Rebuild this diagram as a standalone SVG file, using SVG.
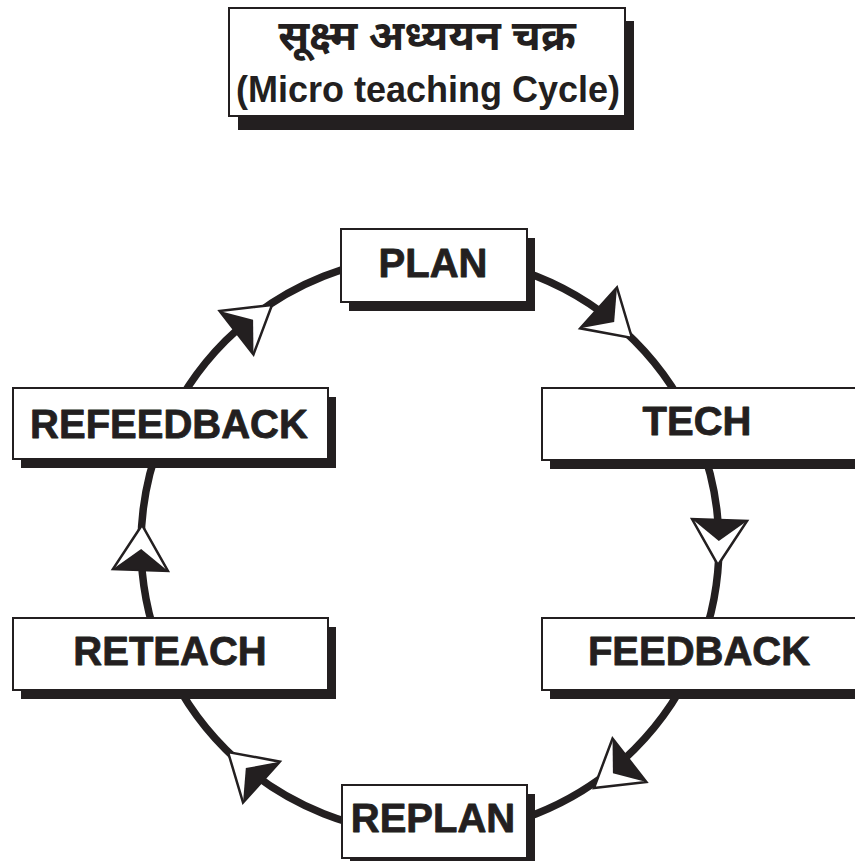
<svg xmlns="http://www.w3.org/2000/svg" xmlns:xlink="http://www.w3.org/1999/xlink" width="855" height="861" viewBox="0 0 855 861">
  <style>
    .box { fill: #ffffff; stroke: #231f20; stroke-width: 2; }
    .shadow { fill: #231f20; }
    .lbl { font-family: "Liberation Sans", Arial, sans-serif; font-weight: bold; font-size: 40px; fill: #231f20; stroke: #231f20; stroke-width: 0.8; stroke-linejoin: round; text-anchor: middle; }
    .ring { fill: none; stroke: #231f20; stroke-width: 7.5; }
    .hi { font-family: "Noto Sans Devanagari", "Noto Serif Devanagari", "Lohit Devanagari", "FreeSerif", sans-serif; font-weight: bold; font-size: 42px; fill: #231f20; text-anchor: middle; }
    .sub { font-family: "Liberation Sans", Arial, sans-serif; font-weight: bold; font-size: 36px; fill: #231f20; text-anchor: middle; }
  </style>
  <defs>
    <!-- half-filled arrowhead, tip at origin pointing along +x -->
    <g id="arrowhead">
      <polygon points="0,0 -45,-27.5 -45,27.5" fill="#ffffff" stroke="#231f20" stroke-width="2.5"/>
      <polygon points="-45,-27.5 -24,0 -45,27.5" fill="#231f20"/>
    </g>
  </defs>

  <rect width="855" height="861" fill="#ffffff"/>

  <!-- title -->
  <g id="title">
    <rect class="shadow" x="238" y="21" width="396" height="109"/>
    <rect class="box" x="229" y="8" width="396" height="108"/>
    <text class="hi" x="427" y="50">सूक्ष्म अध्ययन चक्र</text>
    <text class="sub" x="428" y="102">(Micro teaching Cycle)</text>
  </g>

  <!-- cycle ring with direction arrows -->
  <g id="connectors">
    <circle class="ring" cx="430" cy="545" r="289"/>
    <use xlink:href="#arrowhead" transform="translate(632,338) rotate(42)"/>
    <use xlink:href="#arrowhead" transform="translate(718,565) rotate(92)"/>
    <use xlink:href="#arrowhead" transform="translate(594,788) rotate(142)"/>
    <use xlink:href="#arrowhead" transform="translate(228,752) rotate(-138)"/>
    <use xlink:href="#arrowhead" transform="translate(142,525) rotate(-88)"/>
    <use xlink:href="#arrowhead" transform="translate(272,305) rotate(-38)"/>
  </g>

  <g id="plan">
    <rect class="shadow" x="349" y="238" width="186" height="73"/>
    <rect class="box" x="341" y="229" width="186" height="73"/>
    <text class="lbl" x="433" y="277">PLAN</text>
  </g>

  <g id="tech">
    <rect class="shadow" x="550" y="397" width="330" height="72"/>
    <rect class="box" x="542" y="388" width="330" height="72"/>
    <text class="lbl" x="697" y="435">TECH</text>
  </g>

  <g id="feedback">
    <rect class="shadow" x="550" y="627" width="330" height="72"/>
    <rect class="box" x="542" y="618" width="330" height="72"/>
    <text class="lbl" x="699" y="665">FEEDBACK</text>
  </g>

  <g id="replan">
    <rect class="shadow" x="350" y="794" width="185" height="73"/>
    <rect class="box" x="342" y="785" width="185" height="73"/>
    <text class="lbl" x="433" y="832">REPLAN</text>
  </g>

  <g id="reteach">
    <rect class="shadow" x="21" y="627" width="315" height="72"/>
    <rect class="box" x="13" y="618" width="315" height="72"/>
    <text class="lbl" x="170" y="665">RETEACH</text>
  </g>

  <g id="refeedback">
    <rect class="shadow" x="21" y="397" width="315" height="71"/>
    <rect class="box" x="13" y="388" width="315" height="71"/>
    <text class="lbl" x="169" y="438">REFEEDBACK</text>
  </g>
</svg>
